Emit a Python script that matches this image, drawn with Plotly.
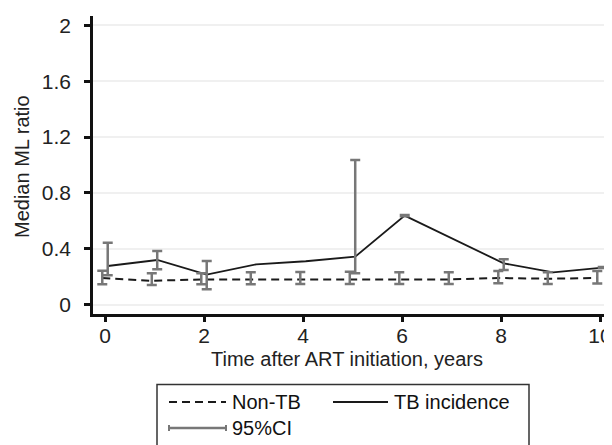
import plotly.graph_objects as go

# ---- data ----
years = [0, 1, 2, 3, 4, 5, 6, 7, 8, 9, 10]
x_ticks = [0, 2, 4, 6, 8, 10]
y_ticks = [0, 0.4, 0.8, 1.2, 1.6, 2]
y_ticktext = ["0", "0.4", "0.8", "1.2", "1.6", "2"]

nontb_median = [0.19, 0.17, 0.18, 0.18, 0.185, 0.185, 0.185, 0.18, 0.19, 0.185, 0.19]
nontb_lo = [0.145, 0.14, 0.145, 0.145, 0.147, 0.147, 0.147, 0.147, 0.152, 0.147, 0.15]
nontb_hi = [0.242, 0.224, 0.224, 0.231, 0.233, 0.235, 0.231, 0.231, 0.24, 0.231, 0.24]

tb_median = [0.276, 0.319, 0.215, 0.288, 0.31, 0.343, 0.637, None, 0.295, 0.231, 0.265]
tb_lo = [0.209, 0.252, 0.109, None, None, 0.224, 0.632, None, 0.247, None, 0.262]
tb_hi = [0.443, 0.384, 0.312, None, None, 1.036, 0.642, None, 0.324, None, 0.268]

legend_labels = ["Non-TB", "TB incidence", "95%CI"]
x_title = "Time after ART initiation, years"
y_title = "Median ML ratio"

# ---- style ----
FONT = "Liberation Sans, Arial, sans-serif"
FS = 20
TFS = 21
GRAY = "#777777"
OFF_NON = -0.055
OFF_TB = 0.055
PAGE = 8  # page body margin offset in screenshot

x_non = [y + OFF_NON for y in years]
x_tb = [y + OFF_TB for y in years]

fig = go.Figure()

fig.add_trace(go.Scatter(x=x_non, y=nontb_median, mode="lines",
                         line=dict(color="#1a1a1a", width=2, dash="8px,5px"),
                         showlegend=False, hoverinfo="skip"))
fig.add_trace(go.Scatter(x=x_tb, y=tb_median, mode="lines", connectgaps=True,
                         line=dict(color="#1a1a1a", width=1.8),
                         showlegend=False, hoverinfo="skip"))

# error bars (drawn on top)
fig.add_trace(go.Scatter(
    x=x_non, y=nontb_median, mode="markers",
    marker=dict(size=1, opacity=0),
    error_y=dict(type="data", symmetric=False,
                 array=[h - m for h, m in zip(nontb_hi, nontb_median)],
                 arrayminus=[m - l for m, l in zip(nontb_median, nontb_lo)],
                 color=GRAY, thickness=2.5, width=5),
    showlegend=False, hoverinfo="skip"))

tb_eb_y = [m if (l is not None and h is not None) else None
           for m, l, h in zip(tb_median, tb_lo, tb_hi)]
tb_plus = [(h - m) if (h is not None and m is not None) else 0
           for m, h in zip(tb_median, tb_hi)]
tb_minus = [(m - l) if (l is not None and m is not None) else 0
            for m, l in zip(tb_median, tb_lo)]
fig.add_trace(go.Scatter(
    x=x_tb, y=tb_eb_y, mode="markers",
    marker=dict(size=1, opacity=0),
    error_y=dict(type="data", symmetric=False, array=tb_plus, arrayminus=tb_minus,
                 color=GRAY, thickness=2.5, width=5),
    showlegend=False, hoverinfo="skip"))

# ---- geometry (screen px -> figure px -> paper) ----
W, H = 612, 445
L, R, T, B = 93 - PAGE, W, 16 - PAGE, 314 - PAGE
def px(xs):
    return (xs - PAGE - L) / (R - L)
def py(ys):
    return (B - (ys - PAGE)) / (B - T)

X0_SCREEN, XSCALE = 105, 49.5
x_lo = (L + PAGE - X0_SCREEN) / XSCALE
x_hi = (R + PAGE - X0_SCREEN) / XSCALE

shapes = [
    dict(type="rect", xref="paper", yref="paper", x0=px(157), x1=px(529),
         y0=py(480), y1=py(384.5), line=dict(color="#333333", width=1.5),
         fillcolor="white", layer="above"),
    dict(type="line", xref="paper", yref="paper", x0=px(169), x1=px(226),
         y0=py(402), y1=py(402), line=dict(color="#1a1a1a", width=2, dash="8px,5px")),
    dict(type="line", xref="paper", yref="paper", x0=px(333), x1=px(388),
         y0=py(402), y1=py(402), line=dict(color="#1a1a1a", width=2)),
    dict(type="line", xref="paper", yref="paper", x0=px(169), x1=px(226),
         y0=py(428), y1=py(428), line=dict(color=GRAY, width=2.5)),
    dict(type="line", xref="paper", yref="paper", x0=px(169), x1=px(169),
         y0=py(425), y1=py(431), line=dict(color=GRAY, width=2)),
    dict(type="line", xref="paper", yref="paper", x0=px(226), x1=px(226),
         y0=py(425), y1=py(431), line=dict(color=GRAY, width=2)),
]
tfont = dict(family=FONT, size=FS, color="#111111")
annotations = [
    dict(text=legend_labels[0], xref="paper", yref="paper", x=px(230), y=py(402),
         xanchor="left", yanchor="middle", showarrow=False, font=tfont),
    dict(text=legend_labels[1], xref="paper", yref="paper", x=px(392), y=py(402),
         xanchor="left", yanchor="middle", showarrow=False, font=tfont),
    dict(text=legend_labels[2], xref="paper", yref="paper", x=px(230), y=py(428),
         xanchor="left", yanchor="middle", showarrow=False, font=tfont),
    dict(text=x_title, xref="paper", yref="paper", x=px(346.5), y=py(359),
         xanchor="center", yanchor="middle", showarrow=False,
         font=dict(family=FONT, size=FS, color="#222222")),
    dict(text=y_title, xref="paper", yref="paper", x=px(22), y=py(167),
         xanchor="center", yanchor="middle", textangle=-90, showarrow=False,
         font=dict(family=FONT, size=FS, color="#222222")),
]

fig.update_layout(
    width=W, height=H,
    margin=dict(l=L, r=W - R, t=T, b=H - B, pad=0),
    paper_bgcolor="white", plot_bgcolor="white",
    font=dict(family=FONT, size=FS, color="#222222"),
    showlegend=False,
    shapes=shapes, annotations=annotations,
    xaxis=dict(range=[x_lo, x_hi], tickvals=x_ticks, automargin=False,
               showline=True, linecolor="#111111", linewidth=2.5,
               ticks="outside", ticklen=5, tickwidth=2.5, tickcolor="#111111",
               showgrid=False, zeroline=False, ticklabelstandoff=-4,
               tickfont=dict(family=FONT, size=TFS, color="#222222")),
    yaxis=dict(range=[-0.068, 2.068], tickvals=y_ticks, ticktext=y_ticktext,
               automargin=False,
               showline=True, linecolor="#111111", linewidth=2.5,
               ticks="outside", ticklen=6, tickwidth=2.5, tickcolor="#111111",
               showgrid=True, gridcolor="#f0f0f0", gridwidth=2, zeroline=False,
               ticklabelstandoff=9,
               tickfont=dict(family=FONT, size=TFS, color="#222222")),
)

fig.write_html("out.html")
